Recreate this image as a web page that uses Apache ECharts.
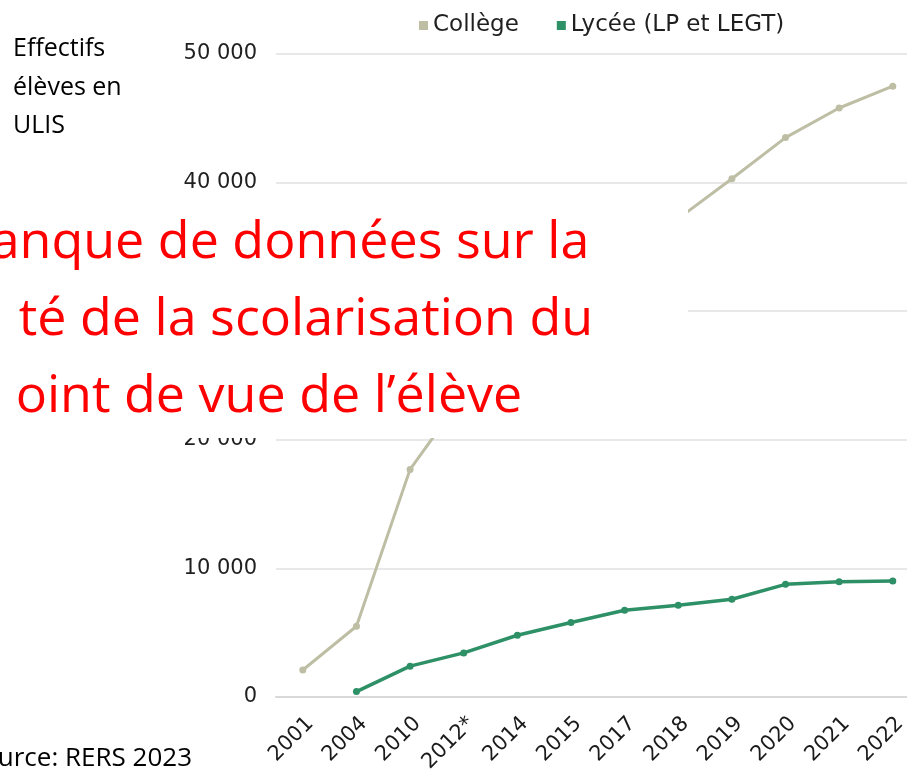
<!DOCTYPE html>
<html>
<head>
<meta charset="utf-8">
<script src="https://cdn.jsdelivr.net/npm/echarts@6.0.0/dist/echarts.min.js"></script>
<style>
  html, body { margin: 0; padding: 0; background: #fff; }
  #chart { width: 907px; height: 772px; }
</style>
</head>
<body>
<div id="chart"></div>
<script>
// ULIS effectifs (hidden part of Collège estimated)
const years = ["2001", "2004", "2010", "2012*", "2014", "2015", "2017", "2018", "2019", "2020", "2021", "2022"];
const college = [2100, 5500, 17700, 23500, 28400, 30800, 34600, 37200, 40300, 43500, 45800, 47500];
const lycee = [null, 420, 2400, 3430, 4800, 5790, 6740, 7130, 7600, 8760, 8970, 9020];
const seriesNames = ["Collège", "Lycée (LP et LEGT)"];
const sideLabel = ["Effectifs", "élèves en", "ULIS"];
const overlayLines = ["anque de données sur la", "té de la scolarisation du", "oint de vue de l’élève"];
const sourceText = "Source: RERS 2023";

let chart = echarts.init(document.getElementById("chart"));

let axisFont = "DejaVu Sans";
let redFont = "52px 'Open Sans'";
let blackFont = "25px 'Open Sans'";
let option = {
    animation: false,
    legend: {
        left: 414,
        top: 9,
        icon: "rect",
        itemWidth: 9,
        itemHeight: 9,
        itemGap: 38,
        textStyle: { fontFamily: axisFont, fontSize: 23, color: "#1f1f1f" },
        data: seriesNames
    },
    grid: { left: 276, top: 54, width: 643.6, height: 643, outerBoundsMode: "none", containLabel: false },
    xAxis: {
        type: "category",
        data: years,
        boundaryGap: true,
        axisLine: { lineStyle: { color: "#d9d9d9", width: 2 } },
        axisTick: { show: false },
        axisLabel: {
            rotate: 45,
            margin: 16,
            interval: 0,
            verticalAlign: "top",
            fontFamily: axisFont,
            fontSize: 21,
            color: "#1a1a1a"
        }
    },
    yAxis: {
        type: "value",
        min: 0,
        max: 50000,
        interval: 10000,
        axisLine: { show: false },
        axisTick: { show: false },
        splitLine: { lineStyle: { color: "#e8e8e8", width: 2 } },
        axisLabel: {
            margin: 19,
            fontFamily: axisFont,
            fontSize: 21,
            color: "#1f1f1f",
            formatter: function(v) {
                return String(v).replace(/\B(?=(\d{3})+(?!\d))/g, " ");
            }
        }
    },
    series: [
        {
            name: seriesNames[0],
            type: "line",
            data: college,
            symbol: "circle",
            symbolSize: 7,
            itemStyle: { color: "#bebea5" },
            lineStyle: { color: "#bebea5", width: 3 },
            z: 3
        },
        {
            name: seriesNames[1],
            type: "line",
            data: lycee,
            symbol: "circle",
            symbolSize: 7,
            itemStyle: { color: "#2e9066" },
            lineStyle: { color: "#2e9066", width: 3.5 },
            z: 4
        }
    ],
    graphic: [
        // white text box laid over the middle of the chart
        { type: "rect", z: 100, shape: { x: 0, y: 198, width: 688, height: 240 }, style: { fill: "#ffffff" } },
        { type: "text", z: 101, x: 290, y: 243, style: { text: overlayLines[0], font: redFont, fill: "#ff0000", align: "center", verticalAlign: "middle" } },
        { type: "text", z: 101, x: 306, y: 320, style: { text: overlayLines[1], font: redFont, fill: "#ff0000", align: "center", verticalAlign: "middle" } },
        { type: "text", z: 101, x: 269, y: 397, style: { text: overlayLines[2], font: redFont, fill: "#ff0000", align: "center", verticalAlign: "middle" } },
        { type: "text", z: 101, x: 13, y: 49, style: { text: sideLabel[0], font: blackFont, fill: "#000", verticalAlign: "middle" } },
        { type: "text", z: 101, x: 13, y: 88, style: { text: sideLabel[1], font: blackFont, fill: "#000", verticalAlign: "middle" } },
        { type: "text", z: 101, x: 13, y: 126, style: { text: sideLabel[2], font: blackFont, fill: "#000", verticalAlign: "middle" } },
        { type: "text", z: 101, x: 192, y: 759, style: { text: sourceText, font: "26px 'Open Sans'", fill: "#000", align: "right", verticalAlign: "middle" } }
    ]
};
chart.setOption(option, true);
window.onresize = () => {
    chart.resize();
};
</script>
</body>
</html>
